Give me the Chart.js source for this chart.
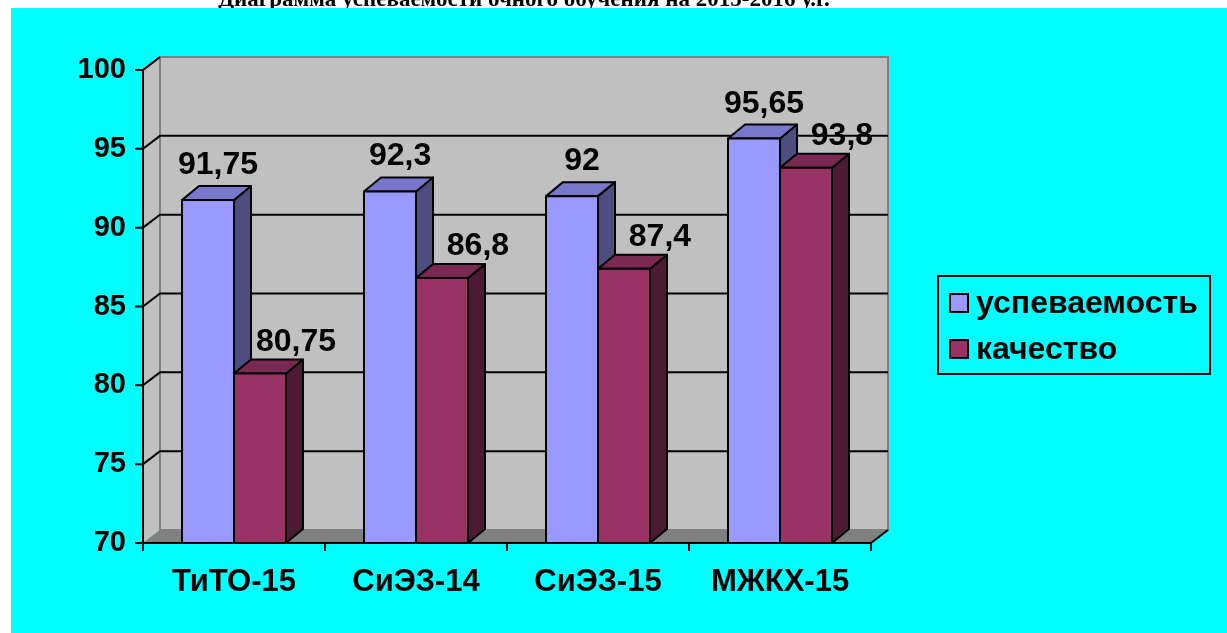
<!DOCTYPE html>
<html>
<head>
<meta charset="utf-8">
<script src="https://cdn.jsdelivr.net/npm/chart.js@4"></script>
<style>
  html, body { margin: 0; padding: 0; background: #ffffff; }
  #wrap { width: 1227px; height: 633px; position: relative; }
</style>
</head>
<body>
<div id="wrap"><canvas id="chart" width="1227" height="633"></canvas></div>
<script>
// values
const groups = ['ТиТО-15', 'СиЭЗ-14', 'СиЭЗ-15', 'МЖКХ-15'];
const progress = [91.75, 92.3, 92, 95.65];   // успеваемость
const quality = [80.75, 86.8, 87.4, 93.8];   // качество
const seriesNames = ['успеваемость', 'качество'];
const titleText = 'Диаграмма успеваемости очного обучения на 2015-2016 у.г.';

// 3d look
const DX = 17, DY = -13;
const faces = [
  { front: '#9999FF', top: '#7777CC', side: '#4D4D80', lx: 10, ly: 13 },
  { front: '#993366', top: '#7A2952', side: '#4D1A33', lx: 36, ly: 10 }
];

function fmt(v) {
  return String(v).replace('.', ',');
}

function box3d(ctx, x0, x1, y, base, f) {
  const dx = DX, dy = DY - 1;
  ctx.lineWidth = 2;
  ctx.strokeStyle = '#000';
  ctx.lineJoin = 'round';
  // side
  ctx.beginPath();
  ctx.moveTo(x1, y); ctx.lineTo(x1 + dx, y + dy);
  ctx.lineTo(x1 + dx, base + dy); ctx.lineTo(x1, base);
  ctx.closePath();
  ctx.fillStyle = f.side; ctx.fill(); ctx.stroke();
  // top
  ctx.beginPath();
  ctx.moveTo(x0, y); ctx.lineTo(x0 + dx, y + dy);
  ctx.lineTo(x1 + dx, y + dy); ctx.lineTo(x1, y);
  ctx.closePath();
  ctx.fillStyle = f.top; ctx.fill(); ctx.stroke();
  // front
  ctx.beginPath();
  ctx.rect(x0, y, x1 - x0, base - y);
  ctx.fillStyle = f.front; ctx.fill(); ctx.stroke();
}

const scenePlugin = {
  id: 'scene',
  beforeDraw(chart) {
    const ctx = chart.ctx;
    ctx.save();
    ctx.fillStyle = '#ffffff';
    ctx.fillRect(0, 0, chart.width, chart.height);
    ctx.fillStyle = '#000';
    ctx.font = 'bold 23px "Liberation Serif", "Times New Roman", serif';
    ctx.textAlign = 'center';
    ctx.textBaseline = 'alphabetic';
    ctx.fillText(titleText, 524, 6);
    ctx.fillStyle = '#00FFFF';
    ctx.fillRect(11, 8, chart.width - 11, chart.height - 8);
    ctx.restore();
  },
  beforeDatasetsDraw(chart) {
    const ctx = chart.ctx;
    const a = chart.chartArea;
    const ys = chart.scales.y;
    ctx.save();
    // left wall
    ctx.fillStyle = '#C0C0C0';
    ctx.beginPath();
    ctx.moveTo(a.left, a.top); ctx.lineTo(a.left + DX, a.top + DY);
    ctx.lineTo(a.left + DX, a.bottom + DY); ctx.lineTo(a.left, a.bottom);
    ctx.closePath(); ctx.fill();
    // back wall
    ctx.fillRect(a.left + DX, a.top + DY, a.right - a.left, a.bottom - a.top);
    ctx.strokeStyle = '#808080';
    ctx.lineWidth = 2;
    ctx.strokeRect(a.left + DX, a.top + DY, a.right - a.left, a.bottom - a.top);
    ctx.beginPath();
    ctx.moveTo(a.left, a.top); ctx.lineTo(a.left + DX, a.top + DY);
    ctx.stroke();
    // floor
    ctx.fillStyle = '#808080';
    ctx.beginPath();
    ctx.moveTo(a.left, a.bottom); ctx.lineTo(a.left + DX, a.bottom + DY);
    ctx.lineTo(a.right + DX, a.bottom + DY); ctx.lineTo(a.right, a.bottom);
    ctx.closePath(); ctx.fill();
    ctx.strokeStyle = '#000';
    ctx.beginPath();
    ctx.moveTo(a.right, a.bottom); ctx.lineTo(a.right + DX, a.bottom + DY);
    ctx.stroke();
    // grid lines on the back wall + ticks
    ctx.strokeStyle = '#000';
    ctx.lineWidth = 2;
    ys.ticks.forEach(t => {
      const y = ys.getPixelForValue(t.value);
      ctx.beginPath();
      ctx.moveTo(a.left - 8, y); ctx.lineTo(a.left, y);
      if (t.value > ys.min) {
        ctx.lineTo(a.left + DX, y + DY);
        if (t.value < ys.max) ctx.lineTo(a.right + DX, y + DY);
      }
      ctx.stroke();
    });
    // axes
    ctx.beginPath();
    ctx.moveTo(a.left, a.top); ctx.lineTo(a.left, a.bottom);
    ctx.lineTo(a.right, a.bottom);
    ctx.stroke();
    const step = (a.right - a.left) / groups.length;
    for (let i = 0; i <= groups.length; i++) {
      const x = a.left + step * i;
      ctx.beginPath();
      ctx.moveTo(x, a.bottom); ctx.lineTo(x, a.bottom + 8);
      ctx.stroke();
    }
    // bars, drawn group by group so the faces overlap correctly
    const base = ys.getPixelForValue(ys.min);
    const metas = chart.data.datasets.map((d, i) => chart.getDatasetMeta(i));
    for (let j = 0; j < groups.length; j++) {
      metas.forEach((m, i) => {
        const el = m.data[j];
        const x0 = Math.round(el.x - el.width / 2);
        const x1 = Math.round(el.x + el.width / 2);
        box3d(ctx, x0, x1, el.y, base, faces[i]);
      });
    }
    ctx.restore();
    return false;
  },
  afterDraw(chart) {
    const ctx = chart.ctx;
    ctx.save();
    // value labels
    ctx.fillStyle = '#000';
    ctx.font = 'bold 32px "Liberation Sans", Arial, sans-serif';
    ctx.textAlign = 'center';
    ctx.textBaseline = 'alphabetic';
    chart.data.datasets.forEach((d, i) => {
      const f = faces[i];
      chart.getDatasetMeta(i).data.forEach((el, j) => {
        ctx.fillText(fmt(d.data[j]), el.x + f.lx, el.y + DY - f.ly);
      });
    });
    // legend
    ctx.lineWidth = 2;
    ctx.strokeStyle = '#000';
    ctx.strokeRect(938, 276, 272, 98);
    ctx.font = 'bold 32px "Liberation Sans", Arial, sans-serif';
    ctx.textAlign = 'left';
    chart.data.datasets.forEach((d, i) => {
      const y = 303 + i * 46;
      ctx.fillStyle = d.backgroundColor;
      ctx.fillRect(950, y - 9, 18, 18);
      ctx.strokeRect(950, y - 9, 18, 18);
      ctx.fillStyle = '#000';
      ctx.textBaseline = 'middle';
      ctx.fillText(d.label, 976, y + 1);
    });
    ctx.restore();
  }
};

new Chart(document.getElementById('chart'), {
  type: 'bar',
  data: {
    labels: groups,
    datasets: [
      { label: seriesNames[0], data: progress, backgroundColor: faces[0].front },
      { label: seriesNames[1], data: quality, backgroundColor: faces[1].front }
    ]
  },
  options: {
    responsive: false,
    animation: false,
    events: [],
    layout: { padding: { left: 0, top: 70, right: 1227 - 871, bottom: 0 } },
    datasets: { bar: { categoryPercentage: 0.57, barPercentage: 1.0 } },
    plugins: {
      legend: { display: false },
      tooltip: { enabled: false }
    },
    scales: {
      x: {
        grid: { display: false },
        border: { display: false },
        ticks: {
          color: '#000',
          padding: 13,
          font: { family: '"Liberation Sans", Arial, sans-serif', size: 31, weight: 'bold' }
        },
        afterFit(s) { s.height = 633 - 543; }
      },
      y: {
        min: 70,
        max: 100,
        grid: { display: false },
        border: { display: false },
        ticks: {
          stepSize: 5,
          color: '#000',
          padding: 9,
          font: { family: '"Liberation Sans", Arial, sans-serif', size: 29, weight: 'bold' }
        },
        afterFit(s) { s.width = 143; }
      }
    }
  },
  plugins: [scenePlugin]
});
</script>
</body>
</html>
